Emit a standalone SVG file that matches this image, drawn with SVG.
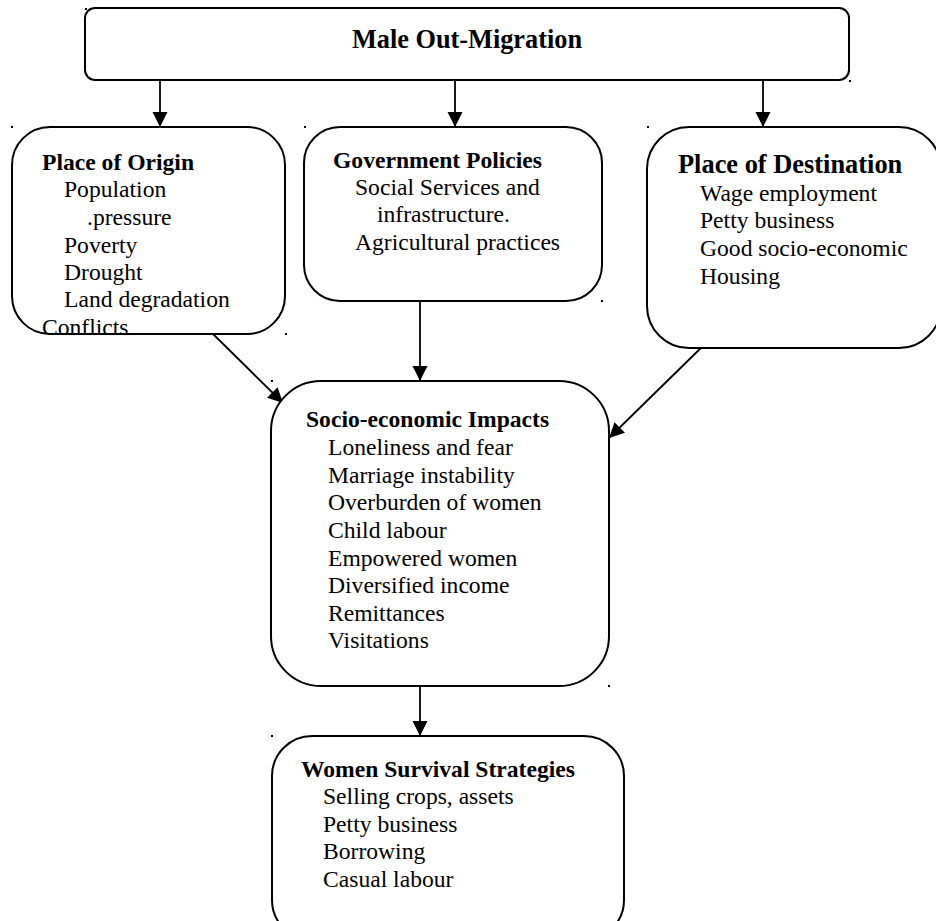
<svg xmlns="http://www.w3.org/2000/svg" width="936" height="921" viewBox="0 0 936 921">
<style>
.box{fill:#fff;stroke:#000;stroke-width:2}
.t{font-family:"Liberation Serif","Times New Roman",serif;font-size:23.6px;fill:#000}
.b{font-weight:bold}
.con{stroke:#000;stroke-width:1.8;fill:none;marker-end:url(#ah)}
.dot{fill:#000}
</style>
<defs>
<marker id="ah" markerUnits="userSpaceOnUse" markerWidth="16" markerHeight="16" refX="15" refY="7.5" orient="auto">
<path d="M0,0 L15,7.5 L0,15 z" fill="#000"/>
</marker>
</defs>
<rect width="936" height="921" fill="#fff"/>
<g id="connectors">
<line class="con" x1="160" y1="80" x2="160" y2="127"/>
<line class="con" x1="455" y1="80" x2="455" y2="127"/>
<line class="con" x1="763" y1="80" x2="763" y2="127"/>
<line class="con" x1="213" y1="334" x2="283" y2="403"/>
<line class="con" x1="420" y1="301" x2="420" y2="381"/>
<line class="con" x1="706" y1="343" x2="609" y2="438"/>
<line class="con" x1="420" y1="686" x2="420" y2="736"/>
</g>
<g id="male-out-migration">
<rect class="box" x="85" y="8" width="764" height="72" rx="10"/>
<text class="t b" x="467" y="48" text-anchor="middle" style="font-size:26.3px">Male Out-Migration</text>
</g>
<g id="place-of-origin">
<rect class="box" x="12" y="127" width="273" height="207" rx="38"/>
<text class="t b" x="42" y="170">Place of Origin</text>
<text class="t" x="64" y="197">Population</text>
<text class="t" x="87" y="225">.pressure</text>
<text class="t" x="64" y="253">Poverty</text>
<text class="t" x="64" y="280">Drought</text>
<text class="t" x="64" y="307">Land degradation</text>
<text class="t" x="42" y="335">Conflicts</text>
</g>
<g id="government-policies">
<rect class="box" x="304" y="127" width="298" height="174" rx="36"/>
<text class="t b" x="333" y="168">Government Policies</text>
<text class="t" x="355" y="195">Social Services and</text>
<text class="t" x="377" y="222">infrastructure.</text>
<text class="t" x="355" y="250">Agricultural practices</text>
</g>
<g id="place-of-destination">
<rect class="box" x="647" y="127" width="294" height="221" rx="42"/>
<text class="t b" x="678" y="173" style="font-size:26.4px">Place of Destination</text>
<text class="t" x="700" y="201">Wage employment</text>
<text class="t" x="700" y="228">Petty business</text>
<text class="t" x="700" y="256">Good socio-economic</text>
<text class="t" x="700" y="284">Housing</text>
</g>
<g id="socio-economic-impacts">
<rect class="box" x="271" y="381" width="338" height="305" rx="50"/>
<text class="t b" x="306" y="427">Socio-economic Impacts</text>
<text class="t" x="328" y="455">Loneliness and fear</text>
<text class="t" x="328" y="483">Marriage instability</text>
<text class="t" x="328" y="510">Overburden of women</text>
<text class="t" x="328" y="538">Child labour</text>
<text class="t" x="328" y="566">Empowered women</text>
<text class="t" x="328" y="593">Diversified income</text>
<text class="t" x="328" y="621">Remittances</text>
<text class="t" x="328" y="648">Visitations</text>
</g>
<g id="women-survival-strategies">
<rect class="box" x="272" y="736" width="352" height="204" rx="40"/>
<text class="t b" x="301" y="777">Women Survival Strategies</text>
<text class="t" x="323" y="804">Selling crops, assets</text>
<text class="t" x="323" y="832">Petty business</text>
<text class="t" x="323" y="859">Borrowing</text>
<text class="t" x="323" y="887">Casual labour</text>
</g>
<g id="marks">
<rect class="dot" x="85" y="8" width="2" height="2"/>
<rect class="dot" x="849" y="80" width="2" height="2"/>
<rect class="dot" x="11" y="126" width="2" height="2"/>
<rect class="dot" x="304" y="126" width="2" height="2"/>
<rect class="dot" x="647" y="126" width="2" height="2"/>
<rect class="dot" x="285" y="333" width="2" height="2"/>
<rect class="dot" x="601" y="300" width="2" height="2"/>
<rect class="dot" x="271" y="380" width="2" height="2"/>
<rect class="dot" x="608" y="685" width="2" height="2"/>
<rect class="dot" x="271" y="735" width="2" height="2"/>
</g>
</svg>
